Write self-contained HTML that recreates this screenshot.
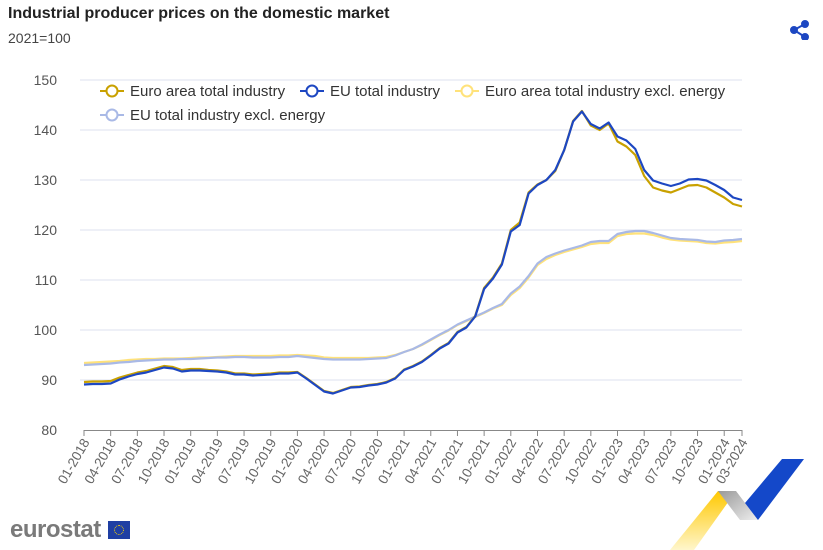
<!DOCTYPE html>
<html><head><meta charset="utf-8"><style>
body{margin:0;background:#fff;font-family:"Liberation Sans",sans-serif;}
#wrap{position:relative;width:823px;height:550px;overflow:hidden;}
.t{position:absolute;}
</style></head><body>
<div id="wrap">
<div class="t" style="left:8px;top:5px;font-size:16px;font-weight:bold;color:#222">Industrial producer prices on the domestic market</div>
<div class="t" style="left:8px;top:30px;font-size:14px;color:#444">2021=100</div>
<svg class="t" style="left:790px;top:20px" width="20" height="20"><g fill="#1d47c2" stroke="#1d47c2" stroke-width="2"><circle cx="15" cy="4" r="3"/><circle cx="4" cy="10" r="3"/><circle cx="15" cy="17" r="3"/><line x1="4" y1="10" x2="15" y2="4"/><line x1="4" y1="10" x2="15" y2="17"/></g></svg>
<svg id="chart" class="t" style="left:0;top:0" width="823" height="550"></svg>
<div class="t" style="left:10px;top:516px;font-size:24px;font-weight:bold;color:#7a7a7a;letter-spacing:-0.5px">eurostat</div>
<div class="t" style="left:108px;top:521px;width:22px;height:18px;background:#1f3fa3"><div style="position:absolute;left:6px;top:4px;width:8px;height:8px;border:1px dotted #ffd700;border-radius:50%"></div></div>
<svg class="t" style="left:660px;top:455px" width="150" height="95">
<defs><linearGradient id="gy" x1="0" y1="0" x2="0" y2="1"><stop offset="0" stop-color="#ffc800"/><stop offset="1" stop-color="#fff6cc"/></linearGradient><linearGradient id="gg" x1="0" y1="0" x2="1" y2="1"><stop offset="0" stop-color="#999"/><stop offset="1" stop-color="#eee"/></linearGradient></defs>
<polygon points="58,36 76,36 34,95 10,95" fill="url(#gy)"/>
<polygon points="76,36 58,36 80,65 98,65" fill="url(#gg)"/>
<polygon points="122,4 144,4 98,65 85,48" fill="#1448c9"/>
</svg>
</div>
<script>
const months=[];for(let y=2018;y<=2024;y++)for(let m=1;m<=12;m++){if(y===2024&&m>3)break;months.push(String(m).padStart(2,'0')+'-'+y);}
const yTicks=[80,90,100,110,120,130,140,150];
const xTickLabels=["01-2018","04-2018","07-2018","10-2018","01-2019","04-2019","07-2019","10-2019","01-2020","04-2020","07-2020","10-2020","01-2021","04-2021","07-2021","10-2021","01-2022","04-2022","07-2022","10-2022","01-2023","04-2023","07-2023","10-2023","01-2024","03-2024"];
const euTotal=[89.1,89.2,89.2,89.3,90.1,90.7,91.2,91.5,92.0,92.5,92.3,91.7,91.9,91.9,91.8,91.7,91.5,91.1,91.1,90.9,91.0,91.1,91.3,91.3,91.5,90.3,89.0,87.7,87.3,87.9,88.5,88.6,88.9,89.1,89.5,90.3,92.0,92.7,93.6,94.9,96.3,97.3,99.5,100.5,102.7,108.2,110.3,113.1,119.7,121.0,127.3,129.0,130.0,132.0,136.0,141.7,143.7,141.2,140.3,141.5,138.7,137.9,136.2,132.0,129.9,129.3,128.8,129.3,130.1,130.2,129.9,129.0,128.0,126.5,126.0];
const eaTotal=[89.6,89.7,89.7,89.8,90.5,91.0,91.5,91.8,92.3,92.8,92.6,92.0,92.2,92.2,92.0,91.9,91.7,91.3,91.3,91.1,91.2,91.3,91.5,91.5,91.6,90.4,89.1,87.8,87.4,88.0,88.6,88.7,89.0,89.2,89.6,90.4,92.1,92.8,93.7,95.0,96.4,97.4,99.6,100.6,102.8,108.4,110.5,113.3,120.0,121.5,127.5,129.1,130.0,131.8,136.0,141.8,143.8,140.9,140.0,141.3,137.7,136.7,135.0,130.8,128.5,127.9,127.5,128.2,128.9,129.0,128.5,127.5,126.5,125.2,124.7];
const euExcl=[93.0,93.1,93.2,93.3,93.5,93.6,93.8,93.9,94.0,94.1,94.1,94.2,94.2,94.3,94.4,94.5,94.5,94.6,94.6,94.5,94.5,94.5,94.6,94.6,94.8,94.6,94.4,94.2,94.1,94.1,94.1,94.1,94.2,94.3,94.4,94.9,95.6,96.2,97.1,98.1,99.1,100.0,101.1,101.9,102.7,103.5,104.4,105.2,107.3,108.7,110.8,113.3,114.6,115.3,115.9,116.4,116.9,117.6,117.8,117.8,119.2,119.6,119.8,119.8,119.4,118.9,118.4,118.2,118.1,118.0,117.7,117.6,117.9,118.0,118.2];
const eaExcl=[93.4,93.5,93.6,93.7,93.8,94.0,94.1,94.2,94.2,94.3,94.3,94.3,94.4,94.5,94.5,94.6,94.7,94.8,94.8,94.8,94.8,94.8,94.9,94.9,95.0,94.9,94.8,94.5,94.4,94.4,94.4,94.4,94.4,94.5,94.6,95.0,95.6,96.2,97.0,98.0,99.0,99.9,101.0,101.8,102.6,103.4,104.3,105.0,107.0,108.4,110.5,113.0,114.2,115.0,115.6,116.1,116.6,117.2,117.4,117.4,118.8,119.2,119.3,119.3,119.0,118.5,118.1,117.9,117.8,117.7,117.4,117.3,117.5,117.6,117.8];
const X0=84,X1=742,Y0=430,Y1=80,VMIN=80,VMAX=150;
const xs=i=>X0+(X1-X0)*i/(months.length-1);
const ys=v=>Y0-(Y0-Y1)*(v-VMIN)/(VMAX-VMIN);
const svg=document.getElementById('chart');const NS='http://www.w3.org/2000/svg';
function mk(tag,attrs,parent){const e=document.createElementNS(NS,tag);for(const k in attrs)e.setAttribute(k,attrs[k]);(parent||svg).appendChild(e);return e;}
yTicks.forEach(v=>{
 if(v>VMIN){const g=mk('line',{x1:X0-4,x2:X1,y1:ys(v),y2:ys(v),stroke:'#dde1ef','stroke-width':1});
 
 }
 const t=mk('text',{x:57,y:ys(v)+5,'text-anchor':'end','font-size':14,fill:'#555','font-family':'Liberation Sans, sans-serif'});t.textContent=v;
 
 
});
const ax=mk('line',{x1:X0,x2:X1,y1:Y0+0.5,y2:Y0+0.5,stroke:'#888','stroke-width':1});


xTickLabels.forEach(lab=>{
 const i=months.indexOf(lab);const x=xs(i);
 const tk=mk('line',{x1:x,x2:x,y1:Y0,y2:Y0+6,stroke:'#888'});
 
 
 const t=mk('text',{x:0,y:0,'text-anchor':'end','font-size':13.5,fill:'#666','font-family':'Liberation Sans, sans-serif',transform:`translate(${x+6},${Y0+12}) rotate(-60)`});t.textContent=lab;
 
 
});
const series=[[eaExcl,'#ffe27a','ea-excl-energy-line'],[euExcl,'#a9b9e6','eu-excl-energy-line'],[eaTotal,'#c9a100','ea-total-line'],[euTotal,'#1d47c2','eu-total-line']];
series.forEach(([d,c,n])=>{
 const p=mk('path',{d:d.map((v,i)=>(i?'L':'M')+xs(i).toFixed(1)+','+ys(v).toFixed(1)).join(''),fill:'none',stroke:c,'stroke-width':2.2,'stroke-linejoin':'round'});
 
 
});
const legend=[['Euro area total industry','#c9a100',100,91],['EU total industry','#1d47c2',300,91],['Euro area total industry excl. energy','#ffe27a',455,91],['EU total industry excl. energy','#a9b9e6',100,115]];
legend.forEach(([lab,c,x,y])=>{
 const g=mk('g',{});
 
 
 mk('line',{x1:x,x2:x+24,y1:y,y2:y,stroke:c,'stroke-width':2},g);
 mk('circle',{cx:x+12,cy:y,r:5.5,fill:'#fff',stroke:c,'stroke-width':2},g);
 const t=mk('text',{x:x+30,y:y+5,'font-size':15,fill:'#333','font-family':'Liberation Sans, sans-serif'},g);t.textContent=lab;
});
</script>
</body></html>
